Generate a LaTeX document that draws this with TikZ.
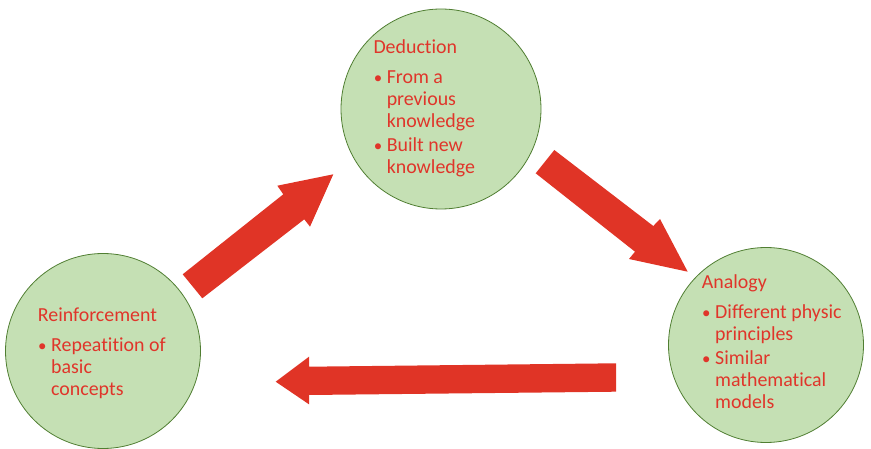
\documentclass[tikz,border=0pt]{standalone}
\usepackage{fontspec}
\setmainfont{Carlito}[Ligatures={NoCommon}]
\usepackage{tikz}

\definecolor{bubblegreen}{HTML}{C5E0B4}
\definecolor{bubbleedge}{HTML}{507E32}
\definecolor{textred}{HTML}{E0352A}
\definecolor{arrowred}{HTML}{E03426}

\newcommand{\bul}{\makebox[13.3pt][l]{\hspace{0.3pt}\scalebox{0.85}{\textbullet}}}
\newcommand{\ind}{\hspace{13.3pt}}

\begin{document}
\begin{tikzpicture}[x=1pt,y=-1pt,
  bubble/.style={circle,draw=bubbleedge,line width=0.8pt,fill=bubblegreen,inner sep=0pt},
  txt/.style={anchor=base west,inner sep=0pt,text=textred,font=\fontsize{19.9}{22}\selectfont},
  bigarrow/.style={fill=arrowred}]
\useasboundingbox (0,0) rectangle (871,449);

\node[bubble,minimum size=200pt] (ded) at (441,109) {};
\node[bubble,minimum size=195pt] (rei) at (103,351) {};
\node[bubble,minimum size=195pt] (ana) at (766,345) {};

\node[txt] (dedtxt) at (373.3,53.3) {\begin{tabular}[t]{@{}l@{}}
  Deduction\\[8pt]
  \bul From a\\ \ind previous\\ \ind knowledge\\[2pt]
  \bul Built new\\ \ind knowledge
\end{tabular}};
\node[txt] (reitxt) at (37.7,321.7) {\begin{tabular}[t]{@{}l@{}}
  Reinforcement\\[8pt]
  \bul Repeatition of\\ \ind basic\\ \ind concepts
\end{tabular}};
\node[txt] (anatxt) at (701.7,288.3) {\begin{tabular}[t]{@{}l@{}}
  Analogy\\[8pt]
  \bul Different physic\\ \ind principles\\[2pt]
  \bul Similar\\ \ind mathematical\\ \ind models
\end{tabular}};

% block arrows
\fill[bigarrow] (182.7,274.3) -- (283.3,194.3) -- (277.3,185.7) -- (333.3,174.3)
  -- (310,226.7) -- (304.3,219.3) -- (202.3,298.3) -- cycle;
\fill[bigarrow] (554.3,150) -- (653.3,226) -- (660,219) -- (687.7,271.7)
  -- (629,259) -- (635,251.7) -- (535.7,173.3) -- cycle;
\fill[bigarrow] (616,363.3) -- (309,366.7) -- (309,356.7) -- (275.7,381.7)
  -- (309,404.3) -- (309,395) -- (616,391.7) -- cycle;
\end{tikzpicture}
\end{document}
